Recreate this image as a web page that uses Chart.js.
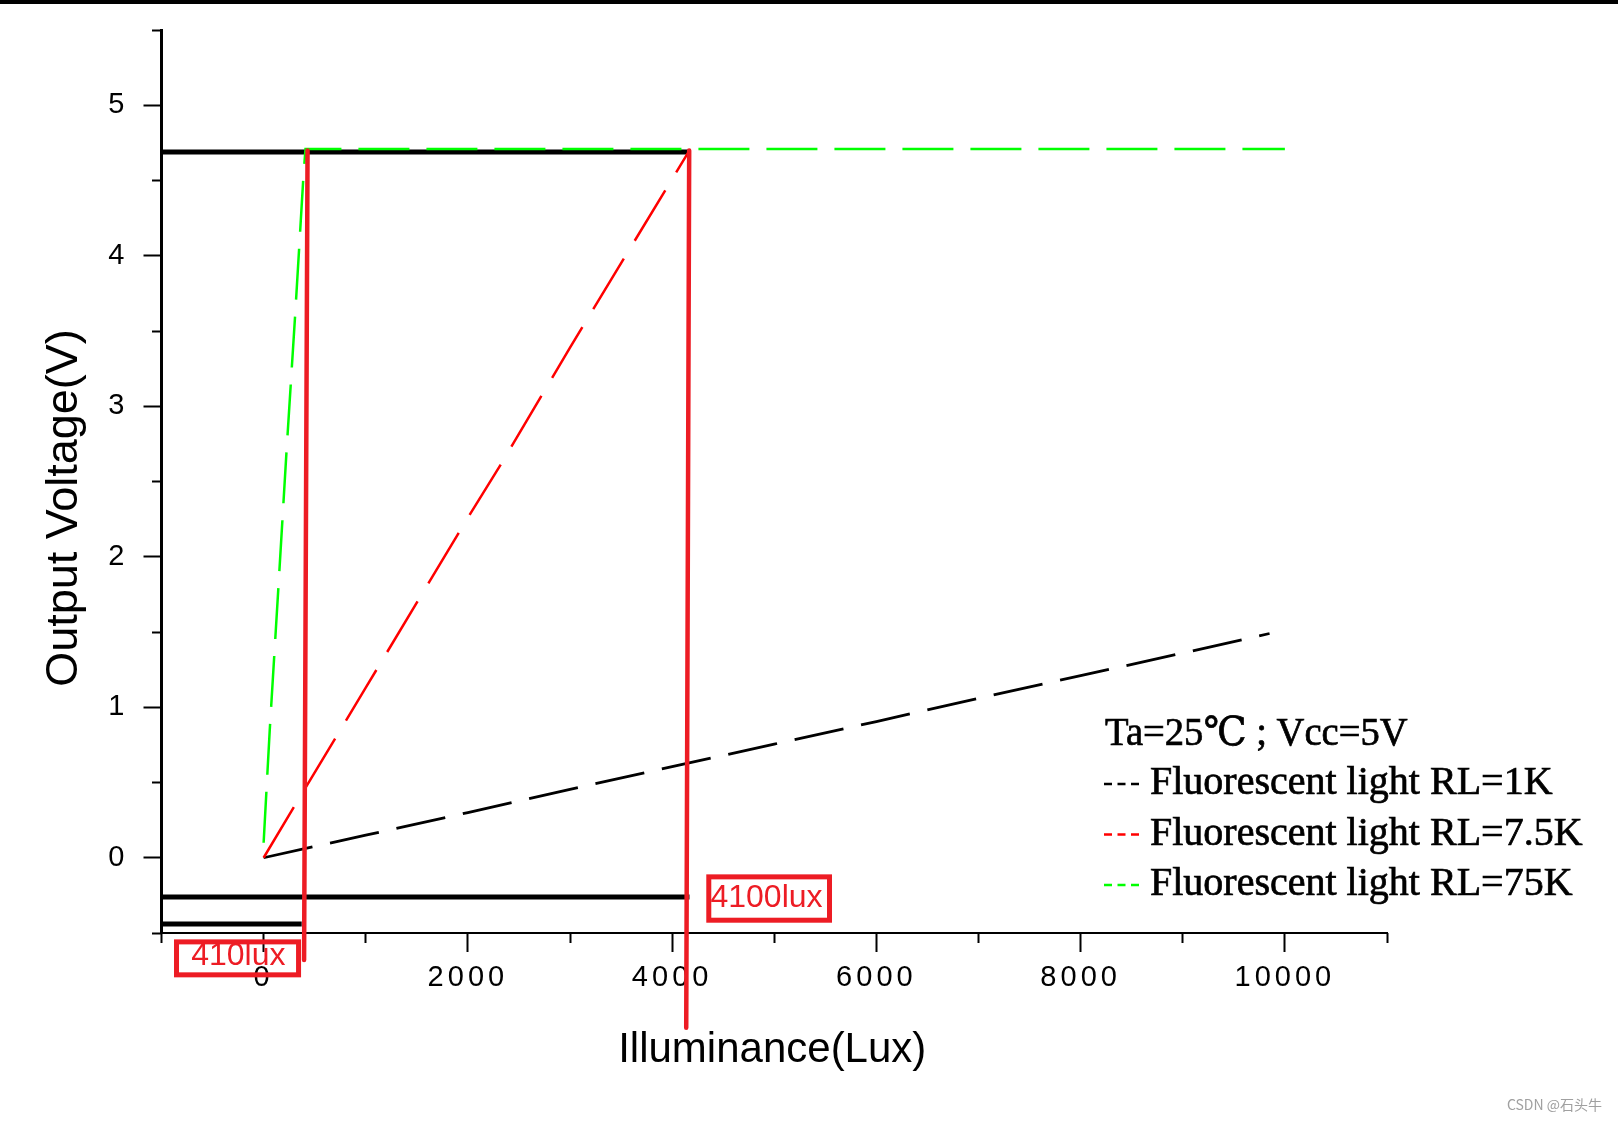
<!DOCTYPE html>
<html lang="en">
<head>
<meta charset="UTF-8">
<title>Output Voltage vs Illuminance</title>
<script src="https://cdn.jsdelivr.net/npm/chart.js"></script>
<style>
  html, body { margin: 0; padding: 0; background: #fff; }
  #wrap { position: relative; width: 1618px; height: 1121px; }
  #topbar { position: absolute; left: 0; top: 0; width: 1618px; height: 4px; background: #000; }
  canvas { display: block; }
</style>
</head>
<body>
<div id="wrap">
  <canvas id="chart" width="1618" height="1121"></canvas>
  <div id="topbar"></div>
</div>
<script>
// illuminance (lux) / output voltage (V)
const luxRL1K  = [0, 1000, 2000, 3000, 4000, 5000, 6000, 7000, 8000, 9000, 9850];
const voltRL1K = [0, 0.15, 0.30, 0.455, 0.605, 0.755, 0.905, 1.06, 1.21, 1.36, 1.49];

const luxRL7K5  = [0, 290, 1000, 2000, 2320, 3000, 4000, 4170];
const voltRL7K5 = [0, 0.33, 1.13, 2.26, 2.61, 3.39, 4.51, 4.70];

const luxRL75K  = [0, 60, 145, 225, 310, 390, 410, 10000];
const voltRL75K = [0.10, 0.85, 1.80, 2.71, 3.62, 4.53, 4.71, 4.71];

// marks drawn by hand on top of the datasheet plot
const mark410Lux  = [430, 396];
const mark410Volt = [4.70, -0.68];
const mark4100Lux  = [4167, 4138];
const mark4100Volt = [4.70, -1.13];
const hTopLux = [-1000, 4177];
const hTopVolt = [4.69, 4.69];
const hMidLux = [-1000, 4170];
const hMidVolt = [-0.26, -0.26];
const hLowLux = [-1000, 373];
const hLowVolt = [-0.44, -0.44];

const xMajorTicks = [0, 2000, 4000, 6000, 8000, 10000];
const xMinorTicks = [-1000, 1000, 3000, 5000, 7000, 9000, 11000];
const yMajorTicks = [0, 1, 2, 3, 4, 5];
const yMinorTicks = [-0.5, 0.5, 1.5, 2.5, 3.5, 4.5, 5.5];

const legendNote = 'Ta=25℃ ; Vcc=5V';
const legendLabels = ['Fluorescent light RL=1K', 'Fluorescent light RL=7.5K', 'Fluorescent light RL=75K'];
const legendColors = ['#000000', '#ff0000', '#00ff00'];

// red boxed labels (in axis units)
const luxBoxes = [
  { text: '410lux',  x0: -853, x1: 342,  y0: -0.559, y1: -0.778, tx: -248, ty: -0.713 },
  { text: '4100lux', x0: 4359, x1: 5541, y0: -0.127, y1: -0.415, tx: 4924, ty: -0.327 }
];

function pts(xs, ys) {
  return xs.map((x, i) => ({ x: x, y: ys[i] }));
}

function series(xs, ys, color, width, dash) {
  return {
    data: pts(xs, ys),
    showLine: true,
    borderColor: color,
    borderWidth: width,
    borderDash: dash,
    pointRadius: 0,
    pointHoverRadius: 0,
    tension: 0,
    fill: false
  };
}

function mark(xs, ys, color, width, cap) {
  const d = series(xs, ys, color, width, []);
  d.clip = false;
  d.borderCapStyle = cap;
  return d;
}

const tickFont = { family: '"Liberation Sans", Arial, sans-serif', size: 29, lineHeight: 1 };
const setTicks = list => scale => { scale.ticks = list.map(v => ({ value: v })); };

// wider spacing for the tick digits, like the bitmap font of the original
const spacingPlugin = {
  id: 'spacing',
  beforeUpdate(chart) { chart.ctx.letterSpacing = '4px'; },
  beforeDraw(chart) { chart.ctx.letterSpacing = '4px'; }
};

const decorPlugin = {
  id: 'decor',
  afterDraw(chart) {
    const { ctx, chartArea, scales: { x, y } } = chart;
    ctx.save();
    ctx.letterSpacing = '0px';
    ctx.fillStyle = '#000';
    ctx.textBaseline = 'alphabetic';

    // axis titles
    ctx.font = '42px "Liberation Sans", Arial, sans-serif';
    ctx.textAlign = 'center';
    ctx.fillText('Illuminance(Lux)', (chartArea.left + chartArea.right) / 2 - 2, 1062);
    ctx.save();
    ctx.translate(77, 508);
    ctx.rotate(-Math.PI / 2);
    ctx.font = '45px "Liberation Sans", Arial, sans-serif';
    ctx.fillText('Output Voltage(V)', 0, 0);
    ctx.restore();

    // legend block
    ctx.font = '40px "Liberation Serif", "Times New Roman", "DejaVu Serif", serif';
    ctx.textAlign = 'left';
    ctx.strokeStyle = '#000';
    ctx.lineWidth = 0.7;
    ctx.save();
    ctx.translate(1105, 745);
    ctx.scale(0.965, 1);
    ctx.fillText(legendNote, 0, 0);
    ctx.strokeText(legendNote, 0, 0);
    ctx.restore();
    legendLabels.forEach((lab, i) => {
      const base = 794 + i * 50.5;
      ctx.fillStyle = '#000';
      ctx.strokeStyle = '#000';
      ctx.lineWidth = 0.7;
      ctx.fillText(lab, 1150, base);
      ctx.strokeText(lab, 1150, base);
      ctx.strokeStyle = legendColors[i];
      ctx.lineWidth = 2.5;
      ctx.setLineDash([8, 5.5]);
      ctx.beginPath();
      ctx.moveTo(1104, base - 10);
      ctx.lineTo(1139, base - 10);
      ctx.stroke();
      ctx.setLineDash([]);
    });

    // boxed lux labels
    ctx.strokeStyle = '#ed1c24';
    ctx.fillStyle = '#ed1c24';
    ctx.lineWidth = 5;
    ctx.font = '32px "Liberation Sans", Arial, sans-serif';
    ctx.textAlign = 'center';
    luxBoxes.forEach(b => {
      const px0 = x.getPixelForValue(b.x0), px1 = x.getPixelForValue(b.x1);
      const py0 = y.getPixelForValue(b.y0), py1 = y.getPixelForValue(b.y1);
      ctx.strokeRect(px0, py0, px1 - px0, py1 - py0);
      ctx.fillText(b.text, x.getPixelForValue(b.tx), y.getPixelForValue(b.ty));
    });

    // watermark
    ctx.font = '14px "Noto Sans CJK SC", "Noto Sans", sans-serif';
    ctx.fillStyle = '#a0a0a0';
    ctx.textAlign = 'right';
    ctx.fillText('CSDN @石头牛', 1602, 1110);
    ctx.restore();
  }
};

new Chart(document.getElementById('chart'), {
  type: 'scatter',
  data: {
    datasets: [
      mark(mark410Lux, mark410Volt, '#ed1c24', 4.5, 'round'),
      mark(mark4100Lux, mark4100Volt, '#ed1c24', 4.5, 'round'),
      series(luxRL75K, voltRL75K, '#00ff00', 2.5, [51, 17]),
      series(luxRL7K5, voltRL7K5, '#ff0000', 2.5, [59, 21]),
      series(luxRL1K, voltRL1K, '#000000', 2.8, [50, 18]),
      mark(hTopLux, hTopVolt, '#000000', 5, 'butt'),
      mark(hMidLux, hMidVolt, '#000000', 5, 'butt'),
      mark(hLowLux, hLowVolt, '#000000', 5, 'butt')
    ]
  },
  options: {
    responsive: false,
    animation: false,
    devicePixelRatio: 1,
    layout: { padding: { left: 101.5, right: 231, top: 30, bottom: 108 } },
    plugins: {
      legend: { display: false },
      tooltip: { enabled: false }
    },
    scales: {
      x: {
        type: 'linear', position: 'bottom', min: -1000, max: 11000,
        afterBuildTicks: setTicks(xMajorTicks),
        afterFit: s => { s.height = 80; },
        ticks: { font: tickFont, color: '#000', padding: 11, maxRotation: 0, autoSkip: false, callback: v => String(v) },
        grid: { drawOnChartArea: false, tickLength: 19, tickWidth: 2, tickColor: '#000' },
        border: { color: '#000', width: 2 }
      },
      xMinor: {
        type: 'linear', axis: 'x', position: { y: -0.5 }, min: -1000, max: 11000,
        afterBuildTicks: setTicks(xMinorTicks),
        ticks: { display: false },
        grid: { drawOnChartArea: false, tickLength: 10, tickWidth: 2, tickColor: '#000' },
        border: { display: false }
      },
      y: {
        type: 'linear', position: 'left', min: -0.5, max: 5.5,
        afterBuildTicks: setTicks(yMajorTicks),
        afterFit: s => { s.width = 60; },
        ticks: { font: tickFont, color: '#000', padding: 15, autoSkip: false, callback: v => String(v) },
        grid: { drawOnChartArea: false, tickLength: 18, tickWidth: 2, tickColor: '#000' },
        border: { color: '#000', width: 3 }
      },
      yMinor: {
        type: 'linear', axis: 'y', position: { x: -1000 }, min: -0.5, max: 5.5,
        afterBuildTicks: setTicks(yMinorTicks),
        ticks: { display: false },
        grid: { drawOnChartArea: false, tickLength: 10, tickWidth: 2, tickColor: '#000' },
        border: { display: false }
      }
    }
  },
  plugins: [spacingPlugin, decorPlugin]
});
</script>
</body>
</html>
